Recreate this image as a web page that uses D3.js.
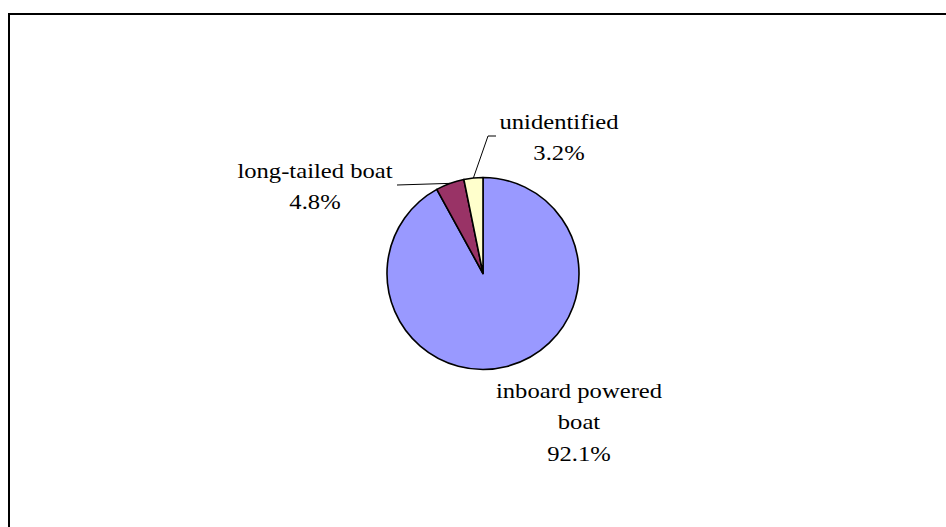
<!DOCTYPE html>
<html>
<head>
<meta charset="utf-8">
<script src="https://cdn.jsdelivr.net/npm/d3@7"></script>
<style>
  html, body { margin: 0; padding: 0; background: #fff; }
  svg { display: block; }
  text { font-family: "Liberation Serif", "Times New Roman", serif; fill: #000; }
</style>
</head>
<body>
<svg id="chart" width="946" height="527"></svg>
<script>
// Boat types and their shares (%)
const categories = ["inboard powered boat", "long-tailed boat", "unidentified"];
const labelLines = [["inboard powered", "boat"], ["long-tailed boat"], ["unidentified"]];
const shares = [92.1, 4.8, 3.2];
const colors = ["#9999FF", "#993366", "#FFFFCC"];

const W = 946, H = 527;
const svg = d3.select("#chart");

// Chart area frame
svg.append("rect")
  .attr("x", 9).attr("y", 14)
  .attr("width", 1200).attr("height", 1200)
  .attr("fill", "none").attr("stroke", "#000").attr("stroke-width", 2);

const cx = 483, cy = 273.5, r = 96;
const data = categories.map((c, i) => ({ name: c, value: shares[i], lines: labelLines[i], color: colors[i] }));

const pie = d3.pie().value(d => d.value).sort(null);
const arcs = pie(data);
const arc = d3.arc().innerRadius(0).outerRadius(r);
const rim = d3.arc().innerRadius(r).outerRadius(r);

const g = svg.append("g").attr("transform", `translate(${cx},${cy})`);

g.selectAll("path.slice")
  .data(arcs)
  .join("path")
  .attr("class", "slice")
  .attr("d", arc)
  .attr("fill", d => d.data.color)
  .attr("stroke", "#000")
  .attr("stroke-width", 1.6)
  .attr("stroke-linejoin", "round");

// Label placement (center x, first baseline y) and leader line elbows, relative to the pie center
const labelPos = [
  { x: 96, y: 124, leader: null },
  { x: -168, y: -96, leader: [[-86, -88.5]] },
  { x: 76, y: -145, leader: [[5, -137.5], [13, -137.5]] }
];
const lineGap = 32;

arcs.forEach((a, i) => {
  const p = labelPos[i];
  if (p.leader) {
    const start = rim.centroid(a);
    const pts = [start, ...p.leader];
    g.append("path")
      .attr("d", d3.line()(pts))
      .attr("fill", "none")
      .attr("stroke", "#000")
      .attr("stroke-width", 1);
  }
  const lines = [...a.data.lines, d3.format(".1f")(a.data.value) + "%"];
  const t = g.append("g")
    .attr("transform", `translate(${p.x},${p.y}) scale(1.12,1)`);
  lines.forEach((ln, k) => {
    t.append("text")
      .attr("x", 0)
      .attr("y", k * lineGap)
      .attr("text-anchor", "middle")
      .attr("font-size", 22)
      .text(ln);
  });
});
</script>
</body>
</html>
